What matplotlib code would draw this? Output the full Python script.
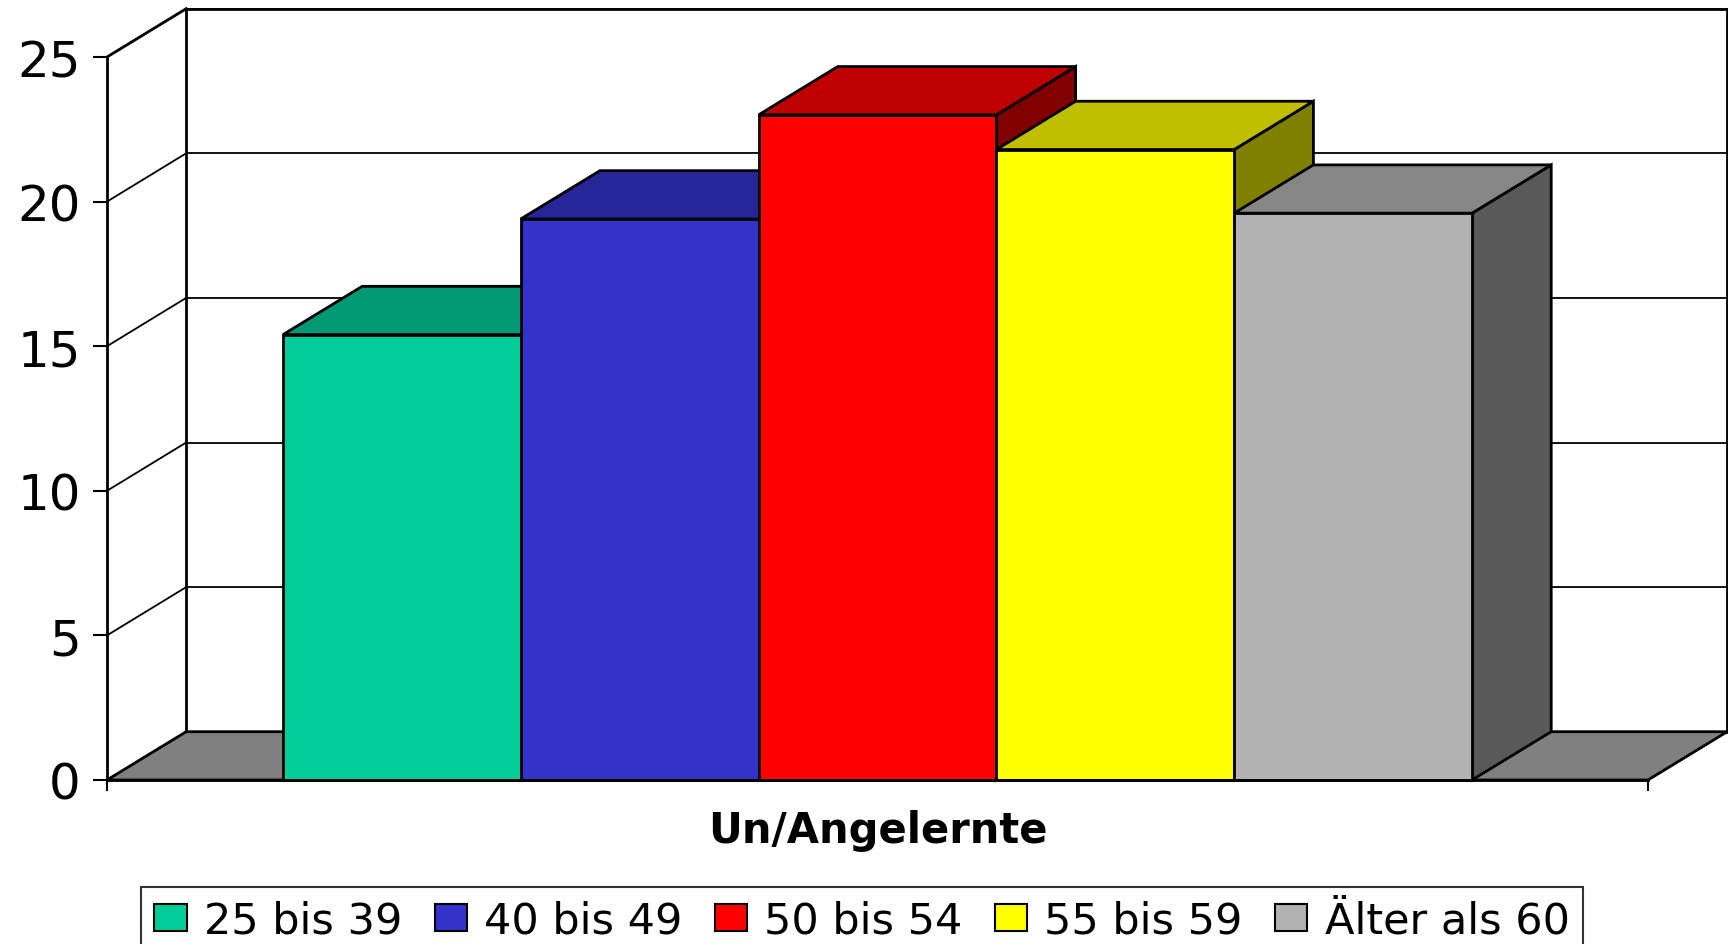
import matplotlib.pyplot as plt
from matplotlib.patches import Polygon, Patch

# data
groups = ['25 bis 39', '40 bis 49', '50 bis 54', '55 bis 59', 'Älter als 60']
values = [15.4, 19.4, 23.0, 21.8, 19.6]
category = 'Un/Angelernte'
yticks = [0, 5, 10, 15, 20, 25]

front = ['#00CC99', '#3333CC', '#FF0000', '#FFFF00', '#B2B2B2']
top = ['#009973', '#262699', '#BF0000', '#BFBF00', '#868686']
side = ['#007356', '#1A1A73', '#800000', '#808000', '#595959']

plt.rcParams['font.family'] = ['DejaVu Sans']

fig = plt.figure(figsize=(17.28, 9.45), dpi=100)
ax = fig.add_axes([107 / 1728, 164 / 945, 1541 / 1728, 723 / 945])

gap = 0.74
x0, x1 = -gap, len(values) + gap
ymax = 25
dx, dy = 0.333, 1.67   # depth offset (x units, y units)
lw = 2.0

ax.set_xlim(x0, x1)
ax.set_ylim(0, ymax)

# back wall gridlines + side wall diagonals
for t in yticks:
    ax.plot([x0 + dx, x1 + dx], [t + dy, t + dy], color='black', lw=1.3,
            clip_on=False, zorder=1, solid_capstyle='butt')
    ax.plot([x0, x0 + dx], [t, t + dy], color='black', lw=1.3,
            clip_on=False, zorder=1)
# back wall frame
ax.plot([x0 + dx, x0 + dx], [dy, ymax + dy], color='black', lw=lw, clip_on=False, zorder=1)
ax.plot([x0 + dx, x1 + dx], [ymax + dy, ymax + dy], color='black', lw=lw, clip_on=False, zorder=1)
ax.plot([x1 + dx, x1 + dx], [dy, ymax + dy], color='black', lw=lw, clip_on=False, zorder=1)
ax.plot([x0, x0 + dx], [ymax, ymax + dy], color='black', lw=lw, clip_on=False, zorder=1)

# floor
floor = Polygon([(x0, 0), (x1, 0), (x1 + dx, dy), (x0 + dx, dy)], closed=True,
                facecolor='#808080', edgecolor='black', lw=lw, clip_on=False, zorder=2)
ax.add_patch(floor)

# 3d bars
for i, v in enumerate(values):
    l, r = i, i + 1
    sd = Polygon([(r, 0), (r + dx, dy), (r + dx, v + dy), (r, v)], closed=True,
                 facecolor=side[i], edgecolor='black', lw=lw, clip_on=False, zorder=3)
    tp = Polygon([(l, v), (r, v), (r + dx, v + dy), (l + dx, v + dy)], closed=True,
                 facecolor=top[i], edgecolor='black', lw=lw, clip_on=False, zorder=3)
    fr = Polygon([(l, 0), (r, 0), (r, v), (l, v)], closed=True,
                 facecolor=front[i], edgecolor='black', lw=lw, clip_on=False, zorder=3)
    ax.add_patch(sd)
    ax.add_patch(tp)
    ax.add_patch(fr)

for s in ['top', 'right']:
    ax.spines[s].set_visible(False)
ax.spines['left'].set_linewidth(lw)
ax.spines['bottom'].set_linewidth(lw)
ax.spines['left'].set_zorder(4)
ax.spines['bottom'].set_zorder(4)

ax.set_yticks(yticks)
ax.set_yticklabels([str(t) for t in yticks])
ax.tick_params(axis='y', direction='out', length=10, width=1.5, pad=9, labelsize=36)

ax.set_xticks([x0, x1])
ax.set_xticklabels(['', ''])
ax.tick_params(axis='x', which='major', direction='out', length=8, width=1.5)
ax.set_xticks([len(values) / 2], [category], minor=True)
ax.tick_params(axis='x', which='minor', length=0, pad=21, labelsize=30)
for lbl in ax.get_xticklabels(minor=True):
    lbl.set_fontweight('bold')

handles = [Patch(facecolor=front[i], edgecolor='black', lw=1.5, label=g)
           for i, g in enumerate(groups)]
leg = fig.legend(handles=handles, loc='upper center', ncol=5,
                 bbox_to_anchor=(862 / 1728, 57 / 945), fontsize=31,
                 frameon=True, fancybox=False, edgecolor='black',
                 handlelength=0.75, handleheight=0.6, handletextpad=0.4,
                 columnspacing=0.75, borderpad=0.3, borderaxespad=0)
leg.get_frame().set_linewidth(1.5)

fig.savefig('out.png', dpi=100)
